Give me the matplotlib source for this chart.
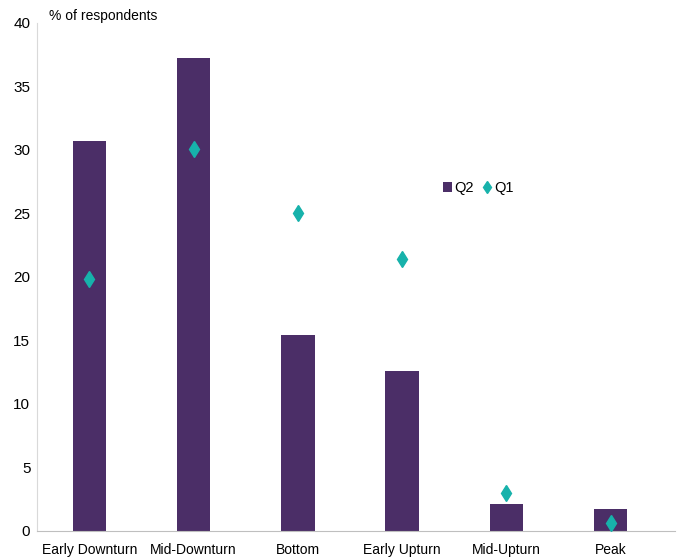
import matplotlib.pyplot as plt
import numpy as np

plt.rcParams['font.family'] = ['Liberation Sans', 'DejaVu Sans']

CATEGORIES = ['Early Downturn', 'Mid-Downturn', 'Bottom', 'Early Upturn', 'Mid-Upturn', 'Peak']
Q2_VALUES = [30.7, 37.2, 15.4, 12.6, 2.1, 1.7]
Q1_VALUES = [19.8, 30.1, 25.0, 21.4, 3.0, 0.6]

BAR_COLOR = '#4b2e67'
DIAMOND_COLOR = '#17b2ab'

fig = plt.figure(figsize=(6.78, 5.57), dpi=100)
ax = fig.add_axes([0.055, 0.047, 0.941, 0.912])

x = np.arange(len(CATEGORIES))
bars = ax.bar(x, Q2_VALUES, width=0.32, color=BAR_COLOR, label='Q2', zorder=2)
diamonds, = ax.plot(x, Q1_VALUES, linestyle='none', marker='d', markersize=8,
                    color=DIAMOND_COLOR, label='Q1', zorder=3)

ax.set_xlim(-0.5, 5.62)
ax.set_ylim(0, 40)
ax.set_yticks(np.arange(0, 41, 5))
ax.set_xticks(x)
ax.set_xticklabels(CATEGORIES, fontsize=10)
ax.tick_params(axis='y', length=0, pad=5, labelsize=11)
ax.tick_params(axis='x', length=0, pad=9)

for side in ['top', 'right']:
    ax.spines[side].set_visible(False)
ax.spines['left'].set_color('#d9d9d9')
ax.spines['bottom'].set_color('#bfbfbf')

ax.text(0.018, 1.0, '% of respondents', transform=ax.transAxes,
        fontsize=10, ha='left', va='bottom')

ax.legend(handles=[bars, diamonds], loc='center left', bbox_to_anchor=(0.615, 0.675),
          ncol=2, frameon=False, fontsize=10.5, handlelength=0.6, handletextpad=0.2,
          columnspacing=0.6, markerscale=0.8)

fig.savefig('out.png', dpi=100)
